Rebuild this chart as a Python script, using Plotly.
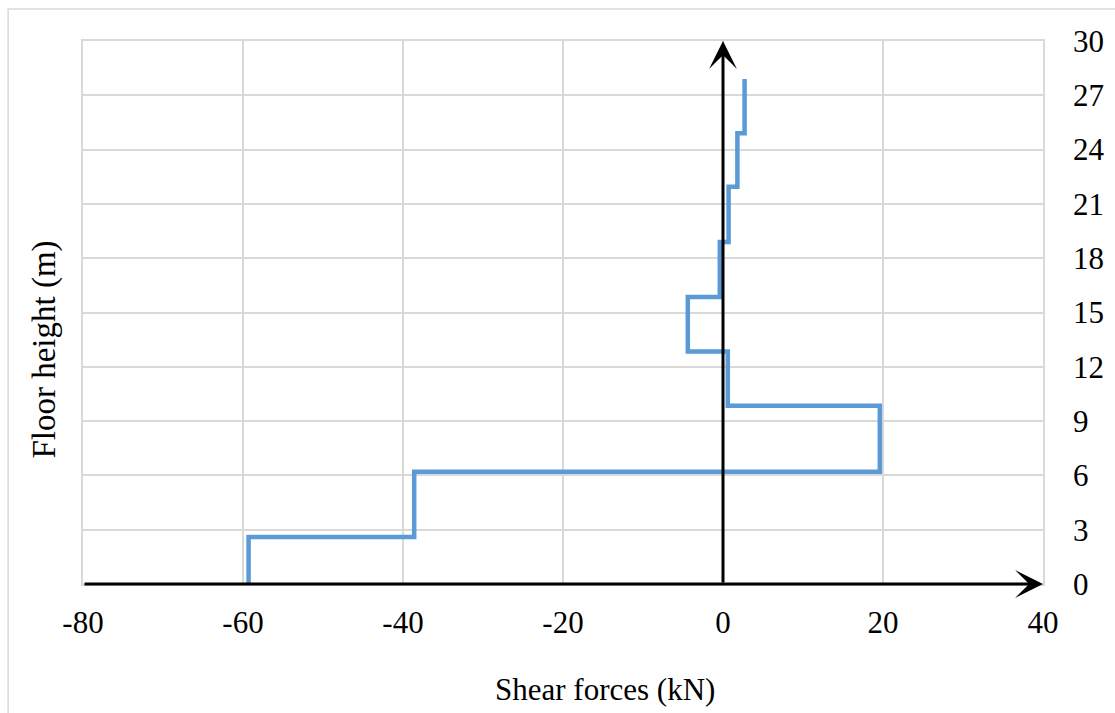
import plotly.graph_objects as go

# Storey boundaries (m) and shear force in each storey (kN)
floor_heights = [0, 2.6, 6.2, 9.85, 12.85, 15.85, 18.9, 21.95, 24.9, 27.9]
shear_forces = [-59.3, -38.6, 19.6, 0.6, -4.4, -0.4, 0.7, 1.8, 2.7]

x_ticks = [-80, -60, -40, -20, 0, 20, 40]
y_ticks = [0, 3, 6, 9, 12, 15, 18, 21, 24, 27, 30]

# Step profile: constant shear across each storey
xs, ys = [], []
for i, v in enumerate(shear_forces):
    xs += [v, v]
    ys += [floor_heights[i], floor_heights[i + 1]]

FONT = "Liberation Serif, Times New Roman, serif"
GRID = "#d9d9d9"

fig = go.Figure()
fig.add_trace(go.Scatter(
    x=xs, y=ys, mode="lines",
    line=dict(color="#5b9bd5", width=4.5),
    showlegend=False, hoverinfo="skip",
))

# Axis arrows through the origin
fig.add_annotation(x=40, y=0, ax=-80, ay=0, xref="x", yref="y", axref="x", ayref="y",
                   text="", showarrow=True, arrowhead=3, arrowsize=1.55,
                   arrowwidth=3, arrowcolor="black")
fig.add_annotation(x=0, y=30, ax=0, ay=0, xref="x", yref="y", axref="x", ayref="y",
                   text="", showarrow=True, arrowhead=3, arrowsize=1.55,
                   arrowwidth=3, arrowcolor="black")

# Axis titles
fig.add_annotation(x=-0.04, y=0.431, xref="paper", yref="paper", text="Floor height (m)",
                   xanchor="center", yanchor="middle",
                   textangle=-90, showarrow=False, font=dict(family=FONT, size=33, color="black"))
fig.add_annotation(x=0.544, y=-0.195, xref="paper", yref="paper", text="Shear forces (kN)",
                   xanchor="center", yanchor="middle",
                   showarrow=False, font=dict(family=FONT, size=31, color="black"))

# Outer chart frame
fig.add_shape(type="rect", xref="paper", yref="paper", x0=-0.078, y0=-0.4, x1=1.2, y1=1.0589,
              line=dict(color=GRID, width=1.5), layer="below")

fig.update_xaxes(range=[-80, 40], tickvals=x_ticks, ticktext=[str(t) for t in x_ticks],
                 showgrid=True, gridcolor=GRID, gridwidth=1.5, zeroline=False,
                 showline=True, mirror=True, linecolor=GRID, linewidth=1.5,
                 ticks="", ticklabelstandoff=10,
                 tickfont=dict(family=FONT, size=31, color="black"))
fig.update_yaxes(range=[0, 30], tickvals=y_ticks, side="right",
                 showgrid=True, gridcolor=GRID, gridwidth=1.5, zeroline=False,
                 showline=True, mirror=True, linecolor=GRID, linewidth=1.5,
                 ticks="", ticklabelstandoff=22,
                 tickfont=dict(family=FONT, size=31, color="black"))

fig.update_layout(
    width=1115, height=713,
    margin=dict(l=83, r=72, t=41, b=129),
    paper_bgcolor="white", plot_bgcolor="white",
)

fig.write_html("out.html")
